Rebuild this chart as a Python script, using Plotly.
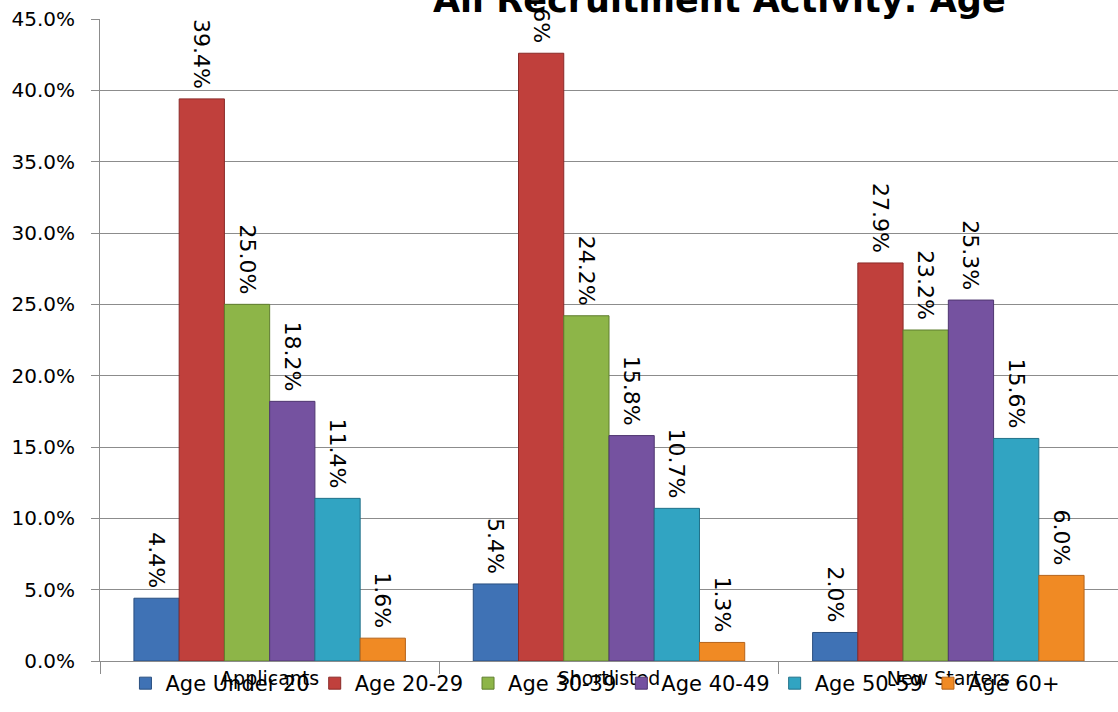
import plotly.graph_objects as go

categories = ["Applicants", "Shortlisted", "New Starters"]
series_names = ["Age Under 20", "Age 20-29", "Age 30-39", "Age 40-49", "Age 50-59", "Age 60+"]
age_under_20 = [4.4, 5.4, 2.0]
age_20_29 = [39.4, 42.6, 27.9]
age_30_39 = [25.0, 24.2, 23.2]
age_40_49 = [18.2, 15.8, 25.3]
age_50_59 = [11.4, 10.7, 15.6]
age_60_plus = [1.6, 1.3, 6.0]
y_ticks = [0, 5, 10, 15, 20, 25, 30, 35, 40, 45]

series_values = [age_under_20, age_20_29, age_30_39, age_40_49, age_50_59, age_60_plus]
colors = ["#3F72B5", "#C0403C", "#8DB548", "#7552A0", "#31A4C2", "#F08A24"]
edges = ["#2A4F80", "#8A2A28", "#5F7E2E", "#4F3670", "#217189", "#B5631A"]

FONT = "DejaVu Sans"

fig = go.Figure()
for name, vals, c, e in zip(series_names, series_values, colors, edges):
    fig.add_trace(go.Bar(
        name=name, x=categories, y=vals,
        marker=dict(color=c, line=dict(color=e, width=1)),
        text=[f"{v:.1f}%\u00a0" for v in vals],
        textposition="outside", textangle=90,
        textfont=dict(family=FONT, size=22, color="#000000"),
        constraintext="none", cliponaxis=False,
    ))

fig.update_layout(
    width=1118, height=712,
    margin=dict(l=100, r=0, t=19, b=51, autoexpand=False),
    barmode="group", bargap=0.2, bargroupgap=0,
    plot_bgcolor="white", paper_bgcolor="white",
    font=dict(family=FONT, size=19, color="#000000"),
    showlegend=True,
    legend=dict(orientation="h", x=0.025, xanchor="left",
                yref="container", y=0.04, yanchor="middle",
                bgcolor="rgba(0,0,0,0)", font=dict(family=FONT, size=21),
                traceorder="normal", itemwidth=30),
    xaxis=dict(showline=True, linecolor="#8C8C8C", linewidth=1, automargin=False,
               ticks="outside", tickson="boundaries", ticklen=12, tickcolor="#8C8C8C",
               tickfont=dict(family=FONT, size=19), showgrid=False),
    yaxis=dict(range=[0, 45], tickvals=y_ticks, automargin=False,
               ticktext=[f"{v:.1f}%" for v in y_ticks],
               showline=True, linecolor="#8C8C8C", linewidth=1,
               ticks="outside", ticklen=8, tickcolor="#8C8C8C",
               ticklabelstandoff=12,
               showgrid=True, gridcolor="#8C8C8C", gridwidth=1,
               tickfont=dict(family=FONT, size=20), zeroline=False),
    annotations=[dict(text="<b>All Recruitment Activity: Age</b>", xref="paper", yref="paper",
                      x=0.609, y=1, xanchor="center", yanchor="middle", yshift=19,
                      showarrow=False, font=dict(family=FONT, size=35, color="#000000"))],
)

fig.write_html("out.html", config={"displayModeBar": False},
               post_script="document.body.style.margin='0';document.body.style.overflow='hidden';")
